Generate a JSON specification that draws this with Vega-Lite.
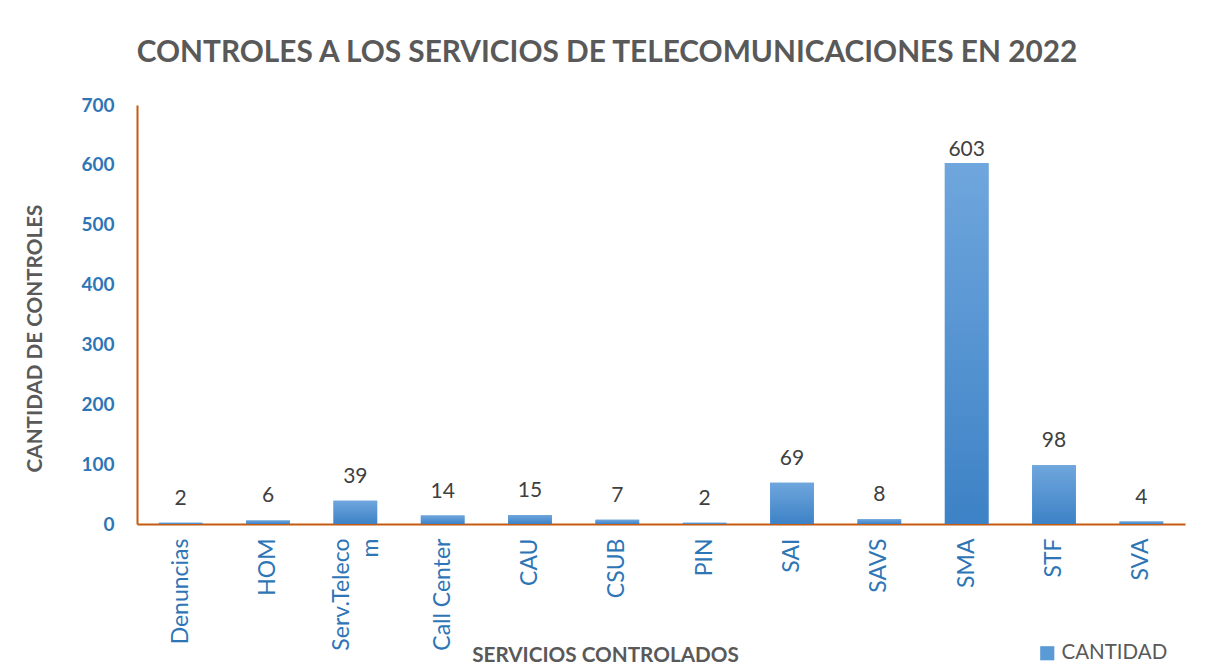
{
  "$schema": "https://vega.github.io/schema/vega-lite/v6.json",
  "width": 1048,
  "height": 419,
  "autosize": {"type": "none"},
  "padding": {"left": 137, "top": 105, "right": 31, "bottom": 145},
  "background": "white",
  "config": {"view": {"stroke": null}, "font": "Lato"},
  "title": {
    "text": "CONTROLES A LOS SERVICIOS DE TELECOMUNICACIONES EN 2022",
    "anchor": "middle",
    "frame": "group",
    "dx": -54,
    "offset": 28,
    "font": "Lato",
    "fontSize": 29.8,
    "fontWeight": "bold",
    "color": "#595959"
  },
  "data": {
    "values": [
      {"servicio": "Denuncias", "cantidad": 2, "serie": "CANTIDAD"},
      {"servicio": "HOM", "cantidad": 6, "serie": "CANTIDAD"},
      {"servicio": "Serv.Telecom", "cantidad": 39, "serie": "CANTIDAD"},
      {"servicio": "Call Center", "cantidad": 14, "serie": "CANTIDAD"},
      {"servicio": "CAU", "cantidad": 15, "serie": "CANTIDAD"},
      {"servicio": "CSUB", "cantidad": 7, "serie": "CANTIDAD"},
      {"servicio": "PIN", "cantidad": 2, "serie": "CANTIDAD"},
      {"servicio": "SAI", "cantidad": 69, "serie": "CANTIDAD"},
      {"servicio": "SAVS", "cantidad": 8, "serie": "CANTIDAD"},
      {"servicio": "SMA", "cantidad": 603, "serie": "CANTIDAD"},
      {"servicio": "STF", "cantidad": 98, "serie": "CANTIDAD"},
      {"servicio": "SVA", "cantidad": 4, "serie": "CANTIDAD"}
    ]
  },
  "encoding": {
    "x": {
      "field": "servicio",
      "type": "nominal",
      "sort": null,
      "scale": {"paddingInner": 0.5, "paddingOuter": 0.25},
      "axis": {
        "title": "SERVICIOS CONTROLADOS",
        "titleFont": "Lato",
        "titleFontSize": 20.7,
        "titleFontWeight": "bold",
        "titleColor": "#595959",
        "titleX": 468,
        "titleY": 131,
        "titleBaseline": "middle",
        "titleAnchor": null,
        "labelAngle": -90,
        "labelAlign": "right",
        "labelBaseline": "middle",
        "labelPadding": 14,
        "labelFont": "Lato",
        "labelFontSize": 23,
        "labelLineHeight": 29,
        "labelColor": "#2E75B6",
        "labelExpr": "datum.value == 'Serv.Telecom' ? ['Serv.Teleco', 'm'] : datum.value",
        "labelOffset": {
          "condition": {"test": "datum.value == 'Serv.Telecom'", "value": -13},
          "value": 0
        },
        "ticks": false,
        "domainColor": "#C55A11",
        "domainWidth": 2
      }
    },
    "y": {
      "field": "cantidad",
      "type": "quantitative",
      "scale": {"domain": [0, 700]},
      "axis": {
        "values": [0, 100, 200, 300, 400, 500, 600, 700],
        "grid": false,
        "ticks": false,
        "title": "CANTIDAD DE CONTROLES",
        "titleFont": "Lato",
        "titleFontSize": 20.7,
        "titleFontWeight": "bold",
        "titleColor": "#595959",
        "titleX": -102,
        "titleY": 233,
        "titleAngle": -90,
        "titleAlign": "center",
        "titleBaseline": "middle",
        "labelFont": "Lato",
        "labelFontSize": 19,
        "labelFontWeight": "bold",
        "labelColor": "#2E75B6",
        "labelPadding": 23,
        "domainColor": "#C55A11",
        "domainWidth": 2
      }
    }
  },
  "layer": [
    {
      "mark": {"type": "bar"},
      "encoding": {
        "color": {
          "field": "serie",
          "type": "nominal",
          "scale": {"range": ["#5B9BD5"]},
          "legend": {
            "title": null,
            "orient": "none",
            "legendX": 900,
            "legendY": 538,
            "symbolType": "square",
            "symbolSize": 200,
            "symbolStrokeWidth": 0,
            "labelFont": "Lato",
            "labelFontSize": 20.5,
            "labelColor": "#595959",
            "labelOffset": 4
          }
        }
      }
    },
    {
      "mark": {
        "type": "bar",
        "color": {
          "gradient": "linear",
          "x1": 0, "y1": 0, "x2": 0, "y2": 1,
          "stops": [
            {"offset": 0, "color": "#6FA6DD"},
            {"offset": 1, "color": "#3D82C6"}
          ]
        }
      },
      "encoding": {}
    },
    {
      "transform": [{"filter": "datum.cantidad < 500"}],
      "mark": {
        "type": "text",
        "baseline": "alphabetic",
        "dy": -18,
        "font": "Lato",
        "fontSize": 21,
        "color": "#404040"
      },
      "encoding": {
        "text": {"field": "cantidad", "type": "quantitative"}
      }
    },
    {
      "transform": [{"filter": "datum.cantidad >= 500"}],
      "mark": {
        "type": "text",
        "baseline": "alphabetic",
        "dy": -7,
        "font": "Lato",
        "fontSize": 21,
        "color": "#404040"
      },
      "encoding": {
        "text": {"field": "cantidad", "type": "quantitative"}
      }
    }
  ]
}
